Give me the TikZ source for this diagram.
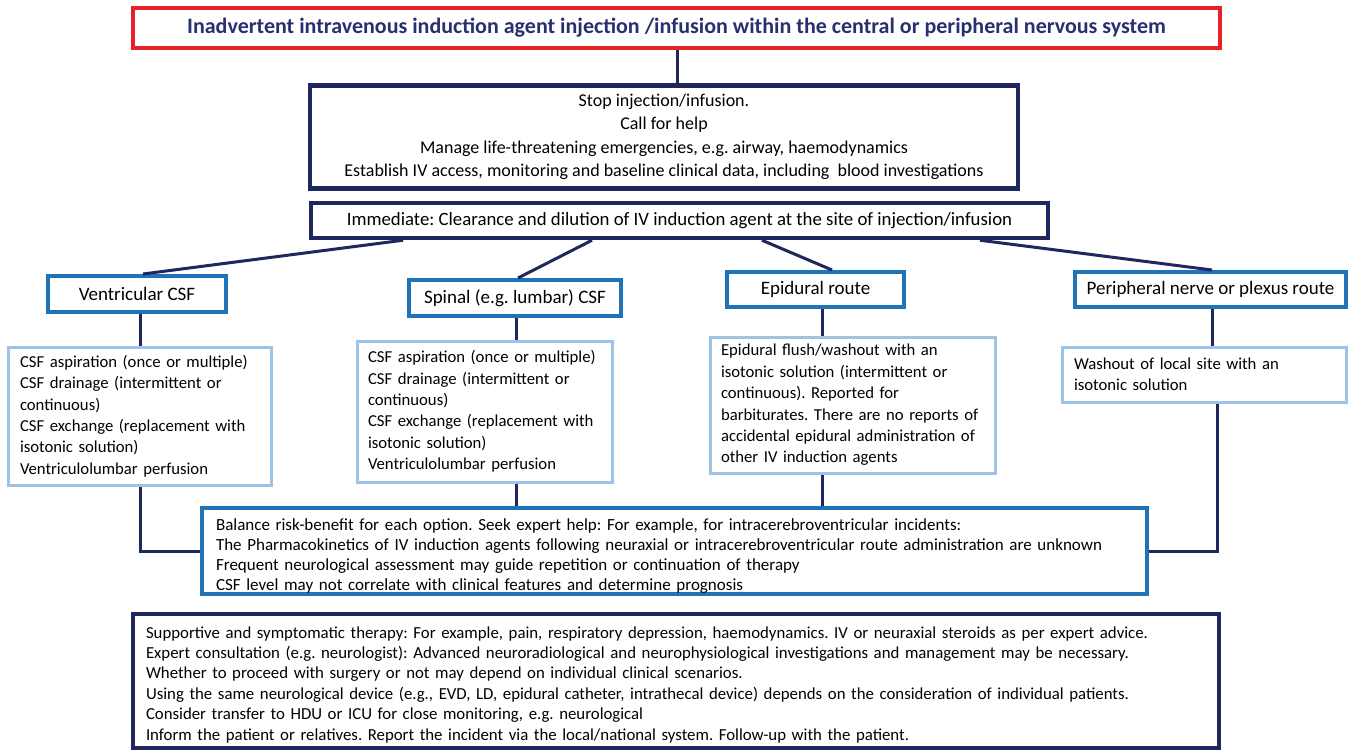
\documentclass[tikz,border=0pt]{standalone}
\usepackage{fontspec}
\setmainfont{Carlito}
\usetikzlibrary{positioning}
\frenchspacing

\definecolor{navy}{RGB}{31,40,94}
\definecolor{titlenavy}{RGB}{40,48,110}
\definecolor{alertred}{RGB}{232,32,40}
\definecolor{midblue}{RGB}{30,115,185}
\definecolor{paleblue}{RGB}{157,195,230}

\newcommand{\titlefont}{\fontsize{22}{26}\selectfont\bfseries}
\newcommand{\stepfont}{\fontsize{18}{23.5}\selectfont}
\newcommand{\routefont}{\fontsize{19}{22}\selectfont}
\newcommand{\detailfont}{\fontsize{16.7}{21.4}\selectfont\hyphenpenalty=10000}
\newcommand{\notefont}{\fontsize{17}{20.2}\selectfont\hyphenpenalty=10000}

\tikzset{
  titlebox/.style={draw=alertred, line width=3.5pt, inner sep=0pt, font=\titlefont, text=titlenavy},
  navybox/.style={draw=navy, line width=4.5pt, inner sep=0pt, align=center, font=\stepfont},
  routebox/.style={draw=midblue, line width=4pt, inner sep=0pt, font=\routefont},
  detailbox/.style={draw=paleblue, line width=3pt, inner xsep=12pt, inner ysep=0pt, align=left, font=\detailfont},
  notebox/.style={line width=4pt, inner xsep=13pt, inner ysep=0pt, align=left, font=\notefont},
  link/.style={draw=navy, line width=3pt},
}

\begin{document}
\begin{tikzpicture}[x=1pt, y=-1pt]
  \useasboundingbox (0,0) rectangle (1351,752);

  \node[titlebox, minimum width=1087, minimum height=40] (incident) at (676.5,28)
    {Inadvertent intravenous induction agent injection /infusion within the central or peripheral nervous system};
  \node[navybox, minimum width=708, minimum height=103] (stop) at (664,137)
    {Stop injection/infusion.\\ Call for help\\ Manage life-threatening emergencies, e.g. airway, haemodynamics\\
     Establish IV access, monitoring and baseline clinical data, including \ blood investigations};
  \node[navybox, font=\fontsize{18.8}{22}\selectfont, minimum width=737, minimum height=35] (clear) at (679.5,220.5)
    {Immediate: Clearance and dilution of IV induction agent at the site of injection/infusion};

  \node[routebox, minimum width=178, minimum height=36] (vent) at (137,294) {Ventricular CSF};
  \node[routebox, minimum width=212, minimum height=36] (spin) at (515,298) {Spinal (e.g. lumbar) CSF};
  \node[routebox, minimum width=177, minimum height=35] (epi) at (815.5,289.5) {Epidural route};
  \node[routebox, minimum width=271, minimum height=35] (peri) at (1210.5,289.5) {Peripheral nerve or plexus route};

  \node[detailbox, text width=239, minimum height=138] (ventdo) at (139.5,416)
    {CSF aspiration (once or multiple)\\ CSF drainage (intermittent or\\ continuous)\\
     CSF exchange (replacement with\\ isotonic solution)\\ Ventriculolumbar perfusion};
  \node[detailbox, inner xsep=11pt, text width=233, minimum height=141] (spindo) at (484.5,411.5)
    {CSF aspiration (once or multiple)\\ CSF drainage (intermittent or\\ continuous)\\
     CSF exchange (replacement with\\ isotonic solution)\\ Ventriculolumbar perfusion};
  \node[detailbox, inner xsep=11pt, text width=263, minimum height=136] (epido) at (852.5,405)
    {Epidural flush/washout with an\\ isotonic solution (intermittent or\\ continuous). Reported for\\
     barbiturates. There are no reports of\\ accidental epidural administration of\\ other IV induction agents};
  \node[detailbox, text width=260, minimum height=55] (perido) at (1204,374.5)
    {Washout of local site with an\\ isotonic solution};

  \node[notebox, draw=midblue, inner xsep=14pt, line width=4.5pt, text width=917, minimum height=84] (balance) at (674.5,551)
    {\rule{0pt}{22pt}Balance risk-benefit for each option. Seek expert help: For example, for intracerebroventricular incidents:\\
     The Pharmacokinetics of IV induction agents following neuraxial or intracerebroventricular route administration are unknown\\
     Frequent neurological assessment may guide repetition or continuation of therapy\\
     CSF level may not correlate with clinical features and determine prognosis};
  \node[notebox, draw=navy, line width=3.5pt, font=\fontsize{16.8}{20.4}\selectfont, text width=1060, minimum height=134] (support) at (676,681)
    {\rule{0pt}{19pt}Supportive and symptomatic therapy: For example, pain, respiratory depression, haemodynamics. IV or neuraxial steroids as per expert advice.\\
     Expert consultation (e.g. neurologist): Advanced neuroradiological and neurophysiological investigations and management may be necessary.\\
     Whether to proceed with surgery or not may depend on individual clinical scenarios.\\
     Using the same neurological device (e.g., EVD, LD, epidural catheter, intrathecal device) depends on the consideration of individual patients.\\
     Consider transfer to HDU or ICU for close monitoring, e.g. neurological\\
     Inform the patient or relatives. Report the incident via the local/national system. Follow-up with the patient.};

  \draw[link] ([xshift=0.5]incident.south) to ([xshift=0.5]incident.south |- stop.north);

  \draw[link] ([xshift=-276.5]clear.south) to ([xshift=6]vent.north);
  \draw[link] ([xshift=-87.5]clear.south) to ([xshift=3]spin.north);
  \draw[link] ([xshift=82.5]clear.south) to ([xshift=16.5]epi.north);
  \draw[link] ([xshift=300.5]clear.south) to ([xshift=1.5]peri.north);

  \draw[link] ([xshift=3]vent.south) to ([xshift=3]vent.south |- ventdo.north);
  \draw[link] ([xshift=1]spin.south) to ([xshift=1]spin.south |- spindo.north);
  \draw[link] ([xshift=6.5]epi.south) to ([xshift=6.5]epi.south |- epido.north);
  \draw[link] ([xshift=1.5]peri.south) to ([xshift=1.5]peri.south |- perido.north);

  \draw[link] ([xshift=0.5]ventdo.south) |- (balance.west);
  \draw[link] ([xshift=1]spin.south |- spindo.south) to ([xshift=1]spin.south |- balance.north);
  \draw[link] ([xshift=6.5]epi.south |- epido.south) to ([xshift=6.5]epi.south |- balance.north);
  \draw[link] ([xshift=6.5]peri.south |- perido.south) |- (balance.east);

\end{tikzpicture}
\end{document}
